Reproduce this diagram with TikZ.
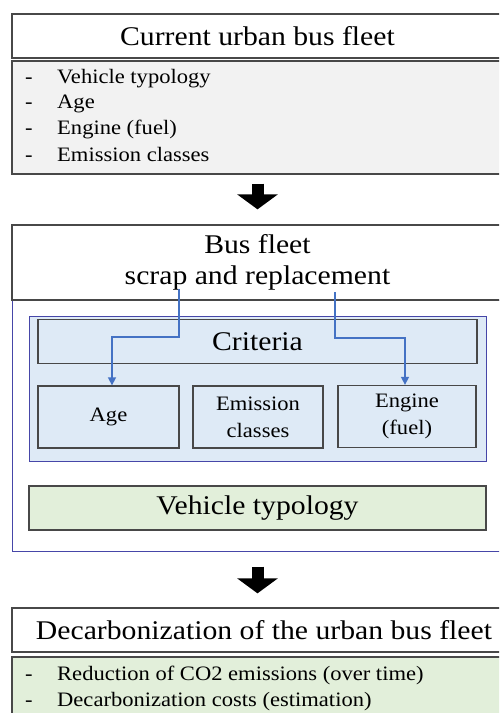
\documentclass[tikz,border=0pt]{standalone}
\usepackage{fontspec}
\setmainfont[FakeStretch=1.1]{Liberation Serif}
\usepackage{tikz}
\usetikzlibrary{arrows.meta}
\definecolor{boxgray}{HTML}{484848}
\definecolor{listgray}{HTML}{F2F2F2}
\definecolor{critblue}{HTML}{DEEAF6}
\definecolor{frameblue}{HTML}{4646A8}
\definecolor{linkblue}{HTML}{4472C4}
\definecolor{typegreen}{HTML}{E2EFDA}
\newcommand{\bigtxt}{\fontsize{27}{31}\selectfont}
\newcommand{\smalltxt}{\fontsize{20.5}{27}\selectfont}
\newcommand{\dashitem}[1]{\makebox[32pt][l]{-}#1}

\begin{document}
\begin{tikzpicture}[x=1pt,y=-1pt,
    box/.style={rectangle,draw=boxgray,line width=1.3pt,inner sep=0pt},
    wide box/.style={box,minimum width=491pt},
    crit box/.style={box,fill=critblue,align=center,font=\smalltxt},
    list item/.style={anchor=west,inner sep=0pt,font=\smalltxt},
    blockarrow/.style={line width=12pt,-{Triangle[length=15pt,width=40pt]},black},
    link/.style={linkblue,line width=1.5pt,-{Triangle[length=8pt,width=8pt]}}]
  \useasboundingbox (0,0) rectangle (499,713);
  \clip (0,0) rectangle (499,713);

  % current fleet
  \node[wide box,minimum height=44pt,font=\bigtxt] (cur) at (257.5,36) {Current urban bus fleet};
  \node[wide box,minimum height=113pt,fill=listgray] (curlist) at (257.5,117.5) {};
  \node[list item] (cur1) at (25,79) {\dashitem{Vehicle typology}};
  \node[list item] (cur2) at (25,104) {\dashitem{Age}};
  \node[list item] (cur3) at (25,129) {\dashitem{Engine (fuel)}};
  \node[list item] (cur4) at (25,154) {\dashitem{Emission classes}};

  % scrap and replacement
  \node[wide box,draw=frameblue,line width=1pt,minimum height=251pt] (scrap) at (257.5,425.5) {};
  \node[wide box,minimum height=75pt,fill=white,align=center,font=\bigtxt] (repl) at (257.5,262.5) {Bus fleet\\scrap and replacement};
  \node[box,draw=frameblue,line width=1pt,fill=critblue,minimum width=457pt,minimum height=145pt] (critbg) at (257.5,388.5) {};
  \node[crit box,minimum width=439pt,minimum height=44pt,font=\bigtxt] (crit) at (257.5,341.5) {Criteria};
  \node[crit box,minimum width=141pt,minimum height=62pt] (age) at (108.5,417) {Age};
  \node[crit box,minimum width=130pt,minimum height=62pt] (emis) at (258,417) {Emission\\classes};
  \node[crit box,minimum width=138pt,minimum height=62pt] (engine) at (407,416.5) {Engine\\(fuel)};
  \node[box,fill=typegreen,minimum width=457pt,minimum height=44pt,font=\bigtxt] (vtype) at (257.5,508) {Vehicle typology};

  \coordinate (ageout) at (179,289);
  \coordinate (agebend) at (179,337);
  \coordinate (engout) at (335,292);
  \coordinate (engbend) at (335,338);
  \draw[link] (ageout) -- (agebend) -| ([xshift=3.5pt]age.north);
  \draw[link] (engout) -- (engbend) -| ([xshift=-2pt]engine.north);

  % decarbonization
  \node[box,minimum width=504pt,minimum height=44pt,font=\bigtxt] (decarb) at (264,630) {Decarbonization of the urban bus fleet};
  \node[wide box,minimum height=66pt,fill=typegreen] (declist) at (257.5,690) {};
  \node[list item] (dec1) at (25,675) {\dashitem{Reduction of CO2 emissions (over time)}};
  \node[list item] (dec2) at (25,702) {\dashitem{Decarbonization costs (estimation)}};

  % block arrows
  \draw[blockarrow,shorten <=9pt,shorten >=15pt] (curlist) -- (repl);
  \draw[blockarrow,shorten <=15pt,shorten >=14pt] (scrap) -- (scrap |- decarb.north);
\end{tikzpicture}
\end{document}
